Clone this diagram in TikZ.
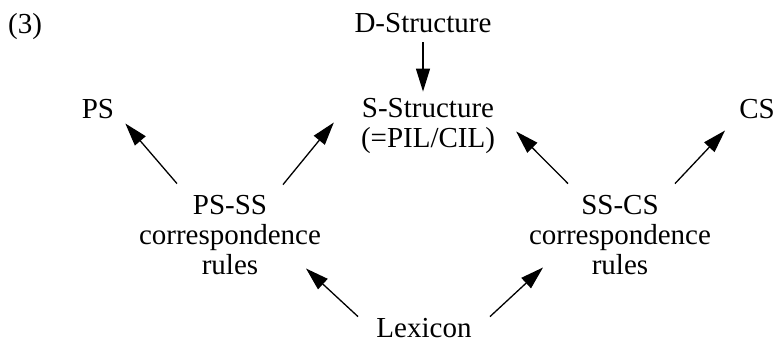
\documentclass[tikz,border=0pt]{standalone}
\usepackage{fontspec}
\setmainfont{Liberation Serif}
\usetikzlibrary{arrows.meta}
\begin{document}
\begin{tikzpicture}[x=1pt,y=-1pt,
  lbl/.style={font=\fontsize{29}{30}\selectfont, inner sep=0pt, anchor=base, align=center},
  arr/.style={-{Triangle[length=23pt,width=14pt]}, line width=1.3pt}]
\useasboundingbox (0,0) rectangle (777,342);
% labels (multi-line nodes are anchored at the baseline of their last line)
\node[lbl, anchor=base west] (num) at (8,34) {(3)};
\node[lbl] (ds) at (423,33) {D-Structure};
\node[lbl] (ss) at (428,148) {S-Structure\\(=PIL/CIL)};
\node[lbl] (ps) at (98,119) {PS};
\node[lbl] (cs) at (757,119) {CS};
\node[lbl] (psss) at (230,274) {PS-SS\\correspondence\\rules};
\node[lbl] (sscs) at (620,274) {SS-CS\\correspondence\\rules};
\node[lbl] (lex) at (424,337) {Lexicon};
% derivation arrows
\draw[arr, shorten <=9pt, shorten >=7pt] (ds.south) -- (ds.south |- ss.north);
\draw[arr] ([shift={(-53,-11)}]psss.north) -- ([shift={(11,4)}]ps.south east);
\draw[arr] ([shift={(53,-10)}]psss.north) -- ([shift={(-27,-4)}]ss.west);
\draw[arr] ([shift={(-52,-11)}]sscs.north) -- ([shift={(21,5)}]ss.east);
\draw[arr] ([shift={(55,-11)}]sscs.north) -- ([shift={(-14,11)}]cs.south west);
\draw[arr] ([shift={(-66,-1)}]lex.north) -- ([shift={(76,-6)}]psss.south);
\draw[arr] ([shift={(66,-1)}]lex.north) -- ([shift={(-77,-7)}]sscs.south);
\end{tikzpicture}
\end{document}
